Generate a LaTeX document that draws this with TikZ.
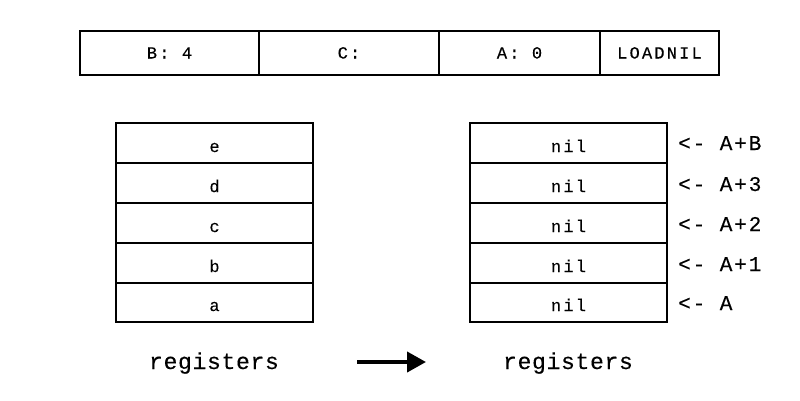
\documentclass[tikz,border=0pt]{standalone}
\usepackage{fontspec}
\usetikzlibrary{arrows.meta}
\newfontfamily\cellfont[LetterSpace=13,FakeBold=0.3]{Liberation Mono}
\newfontfamily\ptrfont[LetterSpace=9,FakeBold=0.3]{Liberation Mono}
\newfontfamily\capfont[LetterSpace=3,FakeBold=0.3]{Liberation Mono}
\begin{document}
\begin{tikzpicture}[x=1pt,y=-1pt,
  cellbox/.style={draw, line width=1.6pt, inner sep=0pt, outer sep=0pt,
    minimum height=40pt},
  topcell/.style={cellbox, minimum height=44pt},
  stackcell/.style={cellbox, minimum width=197pt},
  celltext/.style={anchor=base, inner sep=0pt, font=\cellfont\fontsize{17}{17}\selectfont},
  ptrlabel/.style={anchor=base west, inner sep=0pt, font=\ptrfont\fontsize{21}{21}\selectfont},
  caption/.style={anchor=base, inner sep=0pt, font=\capfont\fontsize{23}{23}\selectfont}]
\useasboundingbox (0,0) rectangle (800,400);
% instruction bar
\node[topcell, minimum width=179pt] (b) at (169.5,53) {};
\node[topcell, minimum width=180pt] (c) at (349,53) {};
\node[topcell, minimum width=161pt] (a) at (519.5,53) {};
\node[topcell, minimum width=119pt] (op) at (659.5,53) {};
\node[celltext] at ([yshift=-5.5pt]b.center) {B: 4};
\node[celltext] at ([yshift=-5.5pt]c.center) {C:};
\node[celltext] at ([yshift=-5.5pt]a.center) {A: 0};
\node[celltext] at ([yshift=-5.5pt]op.center) {LOADNIL};
% left stack
\node[stackcell] (le) at (214.5,143) {};
\node[stackcell] (ld) at (214.5,183) {};
\node[stackcell] (lc) at (214.5,223) {};
\node[stackcell] (lb) at (214.5,263) {};
\node[stackcell, minimum height=39pt] (la) at (214.5,302.5) {};
\node[celltext] at (214.5,152) {e};
\node[celltext] at (214.5,192) {d};
\node[celltext] at (214.5,232) {c};
\node[celltext] at (214.5,272) {b};
\node[celltext] at (214.5,311) {a};
% right stack
\node[stackcell] (re) at (568.5,143) {};
\node[stackcell] (rd) at (568.5,183) {};
\node[stackcell] (rc) at (568.5,223) {};
\node[stackcell] (rb) at (568.5,263) {};
\node[stackcell, minimum height=39pt] (ra) at (568.5,302.5) {};
\node[celltext] at (568.5,152) {nil};
\node[celltext] at (568.5,192) {nil};
\node[celltext] at (568.5,232) {nil};
\node[celltext] at (568.5,272) {nil};
\node[celltext] at (568.5,311) {nil};
% pointer labels
\node[ptrlabel] (pe) at (678,150) {<- A+B};
\node[ptrlabel] (pd) at (678,191) {<- A+3};
\node[ptrlabel] (pc) at (678,231) {<- A+2};
\node[ptrlabel] (pb) at (678,271) {<- A+1};
\node[ptrlabel] (pa) at (678,310) {<- A};
% captions
\node[caption] (regl) at (214,369) {registers};
\node[caption] (regr) at (568,369) {registers};
\coordinate (arrs) at (357,362);
\coordinate (arre) at (426,362);
\draw[line width=4pt, -{Triangle[length=19pt,width=20pt]}] (arrs) -- (arre);
\end{tikzpicture}
\end{document}
